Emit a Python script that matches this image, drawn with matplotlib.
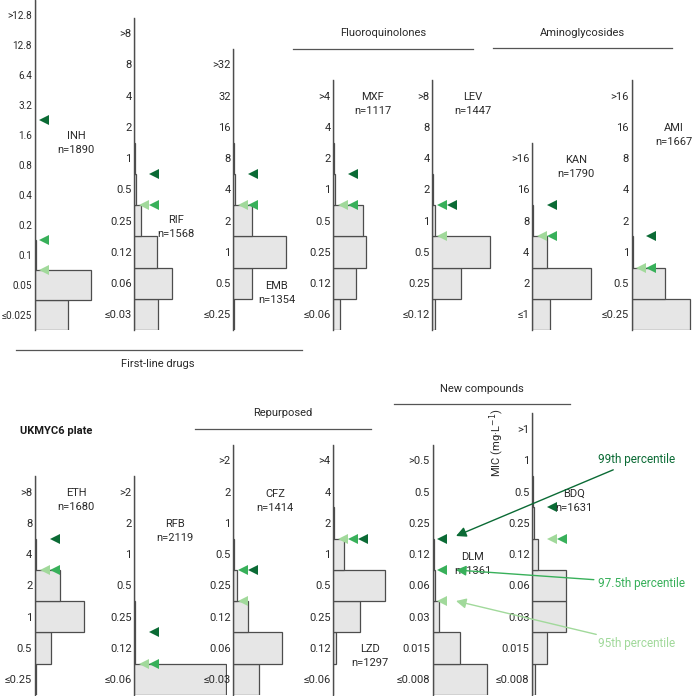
import matplotlib.pyplot as plt

plt.rcParams["font.family"] = ["Roboto", "DejaVu Sans"]
plt.rcParams["font.size"] = 8

# MIC dilutions (lowest to highest) and % of isolates at each dilution
inh_mic = ["≤0.025", "0.05", "0.1", "0.2", "0.4", "0.8", "1.6", "3.2", "6.4", "12.8", ">12.8"]
inh_pct = [36.2, 60.5, 1.0, 0.4, 0.3, 0.3, 0.5, 0.3, 0.2, 0.1, 0.3]
rif_mic = ["≤0.03", "0.06", "0.12", "0.25", "0.5", "1", "2", "4", "8", ">8"]
rif_pct = [25.5, 40.5, 24.3, 7.3, 1.6, 0.4, 0.2, 0.1, 0.1, 0.0]
emb_mic = ["≤0.25", "0.5", "1", "2", "4", "8", "16", "32", ">32"]
emb_pct = [0.5, 20.0, 56.5, 20.5, 1.8, 0.4, 0.2, 0.1, 0.0]
mxf_mic = ["≤0.06", "0.12", "0.25", "0.5", "1", "2", "4", ">4"]
mxf_pct = [7.2, 24.4, 34.7, 31.5, 1.5, 0.4, 0.2, 0.1]
lev_mic = ["≤0.12", "0.25", "0.5", "1", "2", "4", "8", ">8"]
lev_pct = [3.0, 31.0, 62.5, 3.0, 0.3, 0.1, 0.1, 0.0]
kan_mic = ["≤1", "2", "4", "8", "16", ">16"]
kan_pct = [19.0, 63.5, 15.8, 1.3, 0.3, 0.1]
ami_mic = ["≤0.25", "0.5", "1", "2", "4", "8", "16", ">16"]
ami_pct = [62.5, 35.8, 1.3, 0.2, 0.1, 0.1, 0.0, 0.0]
eth_mic = ["≤0.25", "0.5", "1", "2", "4", "8", ">8"]
eth_pct = [1.5, 17.3, 53.2, 26.5, 1.2, 0.2, 0.1]
rfb_mic = ["≤0.06", "0.12", "0.25", "0.5", "1", "2", ">2"]
rfb_pct = [98.5, 1.0, 0.3, 0.1, 0.1, 0.0, 0.0]
cfz_mic = ["≤0.03", "0.06", "0.12", "0.25", "0.5", "1", "2", ">2"]
cfz_pct = [27.5, 52.5, 16.0, 3.5, 0.3, 0.1, 0.1, 0.0]
lzd_mic = ["≤0.06", "0.12", "0.25", "0.5", "1", "2", "4", ">4"]
lzd_pct = [0.2, 3.0, 29.0, 55.5, 11.8, 0.3, 0.1, 0.1]
dlm_mic = ["≤0.008", "0.015", "0.03", "0.06", "0.12", "0.25", "0.5", ">0.5"]
dlm_pct = [58.8, 29.3, 7.3, 2.6, 1.5, 0.3, 0.1, 0.1]
bdq_mic = ["≤0.008", "0.015", "0.03", "0.06", "0.12", "0.25", "0.5", "1", ">1"]
bdq_pct = [3.0, 15.5, 36.5, 36.5, 6.5, 1.6, 0.3, 0.1, 0.0]

drugs = ["INH", "RIF", "EMB", "MXF", "LEV", "KAN", "AMI",
         "ETH", "RFB", "CFZ", "LZD", "DLM", "BDQ"]
n_isolates = [1890, 1568, 1354, 1117, 1447, 1790, 1667,
              1680, 2119, 1414, 1297, 1361, 1631]
# MIC at the 95th / 97.5th / 99th percentile
p95 = ["0.05", "0.25", "2", "0.5", "0.5", "4", "0.5", "2", "≤0.06", "0.12", "1", "0.03", "0.12"]
p975 = ["0.1", "0.25", "2", "0.5", "1", "4", "0.5", "2", "≤0.06", "0.25", "1", "0.06", "0.12"]
p99 = ["1.6", "0.5", "4", "1", "1", "8", "1", "4", "0.12", "0.25", "1", "0.12", "0.25"]

mics = [inh_mic, rif_mic, emb_mic, mxf_mic, lev_mic, kan_mic, ami_mic,
        eth_mic, rfb_mic, cfz_mic, lzd_mic, dlm_mic, bdq_mic]
pcts = [inh_pct, rif_pct, emb_pct, mxf_pct, lev_pct, kan_pct, ami_pct,
        eth_pct, rfb_pct, cfz_pct, lzd_pct, dlm_pct, bdq_pct]

# layout (pixels): spine x, bottom y, bin height, label centre
W, H = 692, 696
panels = {
    "INH": (34.7, 330, 30.0, 76, 136), "RIF": (134.3, 330, 31.25, 176, 220),
    "EMB": (233.3, 330, 31.25, 277, 286), "MXF": (333.3, 330, 31.25, 373, 97),
    "LEV": (432.3, 330, 31.25, 473, 97), "KAN": (532.0, 330, 31.25, 576, 160),
    "AMI": (631.7, 330, 31.25, 674, 128), "ETH": (35.0, 695, 31.3, 76, 493),
    "RFB": (134.3, 695, 31.3, 175, 524), "CFZ": (233.3, 695, 31.3, 275, 494),
    "LZD": (333.3, 695, 31.3, 370, 649), "DLM": (432.7, 695, 31.3, 473, 557),
    "BDQ": (532.3, 695, 31.3, 574, 494),
}
# horizontal slot of the 95 / 97.5 / 99 markers
slots = {"INH": (0, 0, 0), "RIF": (0, 1, 1), "EMB": (0, 1, 1), "MXF": (0, 1, 1),
         "LEV": (0, 0, 1), "KAN": (0, 1, 1), "AMI": (0, 1, 1), "ETH": (0, 1, 1),
         "RFB": (0, 1, 1), "CFZ": (0, 0, 1), "LZD": (0, 1, 2), "DLM": (0, 0, 0),
         "BDQ": (1, 2, 1)}
px_per_pct = 0.93
greens = ["#a1d99b", "#38b05a", "#0b6b35"]
txt = "#2a2a2a"

fig = plt.figure(figsize=(W / 100, H / 100), dpi=100)

for drug, n, mic, pct, a, b, c in zip(drugs, n_isolates, mics, pcts, p95, p975, p99):
    x0, y0, bh, lx, ly = panels[drug]
    k = len(mic)
    ax = fig.add_axes([x0 / W, 1 - y0 / H, 100 * px_per_pct / W, k * bh / H])
    ax.barh(range(k), pct, height=1, color="#e6e6e6", edgecolor="#4d4d4d", linewidth=0.9)
    ax.set_xlim(0, 100)
    ax.set_ylim(-0.5, k - 0.5)
    ax.set_yticks(range(k))
    ax.set_yticklabels(mic)
    ax.set_xticks([])
    # INH sits at the left edge, its long labels need a touch less room
    ax.tick_params(axis="y", length=0, pad=2.0, labelcolor=txt,
                   labelsize=7.2 if drug == "INH" else 8)
    for side in ["top", "right", "bottom"]:
        ax.spines[side].set_visible(False)
    ax.spines["left"].set_color("#4d4d4d")
    ax.spines["left"].set_linewidth(1.0)
    ax.patch.set_alpha(0)
    for val, col, s in zip([a, b, c], greens, slots[drug]):
        xm = (9.7 + 10 * s) / px_per_pct
        ax.plot(xm, mic.index(val) + 0.5, marker="<", ms=7.8, color=col,
                markeredgewidth=0, clip_on=False, zorder=5)

# overlay in pixel coordinates for labels, group lines and legend
ov = fig.add_axes([0, 0, 1, 1], zorder=10)
ov.set_xlim(0, W)
ov.set_ylim(H, 0)
ov.axis("off")
ov.patch.set_alpha(0)

for drug, n in zip(drugs, n_isolates):
    lx, ly = panels[drug][3], panels[drug][4]
    ov.text(lx, ly, drug, ha="center", va="center", color=txt)
    ov.text(lx, ly + 14, f"n={n}", ha="center", va="center", color=txt)

groups = [("Fluoroquinolones", 383, 33, 293, 473, 49),
          ("Aminoglycosides", 582, 33, 493, 672, 48),
          ("First-line drugs", 158, 364, 16, 302, 350),
          ("Repurposed", 283, 413, 195, 371, 429),
          ("New compounds", 482, 389, 394, 570, 404)]
for name, tx, ty, xa, xb, yl in groups:
    ov.text(tx, ty, name, ha="center", va="center", color=txt)
    ov.plot([xa, xb], [yl, yl], color="#555555", lw=0.9)

ov.text(20, 431, "UKMYC6 plate", ha="left", va="center", fontweight="bold", color="#1a1a1a")
ov.text(497, 443, "MIC (mg·L$^{-1}$)", ha="center", va="center", rotation=90, color=txt)

legend = [("99th percentile", 460, 536, greens[2]),
          ("97.5th percentile", 583, 570, greens[1]),
          ("95th percentile", 644, 601, greens[0])]
for label, ty, tip_y, col in legend:
    ov.annotate(label, xy=(456, tip_y), xytext=(598, ty), ha="left", va="center",
                color=col, fontsize=8.5,
                arrowprops=dict(arrowstyle="-|>", color=col, lw=1.0,
                                mutation_scale=15, shrinkA=1, shrinkB=0))

fig.savefig("out.png", dpi=100)
